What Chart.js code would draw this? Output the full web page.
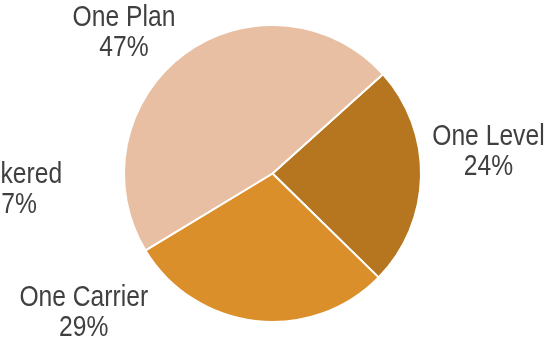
<!DOCTYPE html>
<html>
<head>
<meta charset="utf-8">
<script src="https://cdn.jsdelivr.net/npm/chart.js@4/dist/chart.umd.min.js"></script>
<style>
  html, body { margin: 0; padding: 0; background: #ffffff; overflow: hidden; }
  #wrap { width: 557px; height: 343px; }
</style>
</head>
<body>
<div id="wrap"><canvas id="c" width="557" height="343"></canvas></div>
<script>
// ---- data ----
const categories = ["One Level", "One Carrier", "One Plan"];
const shares = [24, 29, 47];
const sliceColors = ["#B5761F", "#DB8F2B", "#E9BFA3"];
// partially visible label of a neighbouring category (cut by the left edge)
const extraLabel = ["Brokered", "17%"];

const FONT = '"Liberation Sans", Arial, sans-serif';

const labelPlugin = {
  id: 'sliceLabels',
  afterDatasetsDraw(chart, args, opts) {
    const ctx = chart.ctx;
    const meta = chart.getDatasetMeta(0);
    const arc0 = meta.data[0];
    const cx = arc0.x, cy = arc0.y, r = arc0.outerRadius;
    ctx.save();
    ctx.fillStyle = opts.color;
    ctx.font = opts.size + 'px ' + FONT;
    ctx.textAlign = 'center';
    ctx.textBaseline = 'middle';
    const drawBlock = (lines, anchor) => {
      const x = cx + anchor[0] * r;
      const y = cy + anchor[1] * r;
      const n = lines.length;
      lines.forEach((t, i) => {
        ctx.save();
        ctx.translate(x, y + (i - (n - 1) / 2) * opts.lineHeight);
        ctx.scale(opts.narrow, 1);
        ctx.fillText(t, 0, 0);
        ctx.restore();
      });
    };
    meta.data.forEach((arc, i) => {
      drawBlock([categories[i], shares[i] + '%'], opts.anchors[i]);
    });
    drawBlock(extraLabel, opts.extraAnchor);
    ctx.restore();
  }
};

new Chart(document.getElementById('c'), {
  type: 'pie',
  data: {
    labels: categories,
    datasets: [{
      data: shares,
      backgroundColor: sliceColors,
      borderColor: '#ffffff',
      borderWidth: 2
    }]
  },
  options: {
    responsive: false,
    animation: false,
    rotation: 48,
    radius: 148.5,
    layout: { padding: { left: 0, right: 12, top: 4, bottom: 0 } },
    plugins: {
      legend: { display: false },
      tooltip: { enabled: false },
      sliceLabels: {
        color: '#404040',
        size: 29,
        narrow: 0.85,
        lineHeight: 30,
        anchors: [[1.454, -0.142], [-1.271, 0.939], [-1.0, -0.946]],
        extraAnchor: [-1.753, 0.108]
      }
    }
  },
  plugins: [labelPlugin]
});
</script>
</body>
</html>
